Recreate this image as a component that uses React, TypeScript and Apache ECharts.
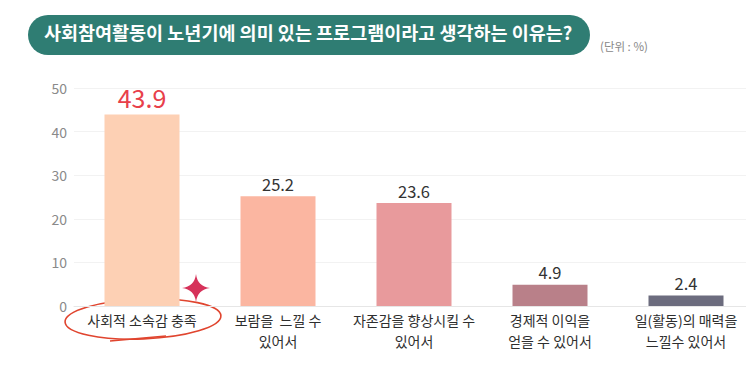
import React, { useEffect, useRef } from "react";
import * as echarts from "echarts";

const categories = [
  "사회적 소속감 충족",
  "보람을  느낄 수\n있어서",
  "자존감을 향상시킬 수\n있어서",
  "경제적 이익을\n얻을 수 있어서",
  "일(활동)의 매력을\n느낄수 있어서",
];
const values = [43.9, 25.2, 23.6, 4.9, 2.4];
const barColors = ["#FDD0B4", "#FBB6A1", "#E89A9C", "#B98089", "#6C6C7E"];
const yTicks = [0, 10, 20, 30, 40, 50];
const title = "사회참여활동이 노년기에 의미 있는 프로그램이라고 생각하는 이유는?";
const unit = "(단위 : %)";

const FONT = "'Noto Sans CJK KR', 'Noto Sans', sans-serif";

export default function App() {
  const ref = useRef<HTMLDivElement>(null);
  useEffect(() => {
    if (!ref.current) return;
    echarts.graphic.registerShape(
      "star4",
      echarts.graphic.extendPath(
        "M14 0 Q15.5 12.5 28 14 Q15.5 15.5 14 28 Q12.5 15.5 0 14 Q12.5 12.5 14 0 Z",
        {}
      )
    );
    const chart = echarts.init(ref.current, null, { renderer: "svg" });
    chart.setOption({
      animation: false,
      backgroundColor: "#ffffff",
      textStyle: { fontFamily: FONT },
      grid: { left: 74, width: 682, top: 88, bottom: 72, containLabel: false },
      xAxis: {
        type: "category",
        data: categories,
        axisLine: { show: true, lineStyle: { color: "#e6e6e6" } },
        axisTick: { show: false },
        axisLabel: {
          color: "#2e2e2e",
          fontSize: 14,
          fontFamily: FONT,
          lineHeight: 21,
          margin: 3,
          interval: 0,
        },
      },
      yAxis: {
        type: "value",
        min: yTicks[0],
        max: yTicks[yTicks.length - 1],
        interval: 10,
        axisLine: { show: false },
        axisTick: { show: false },
        splitLine: { lineStyle: { color: "#f2f2f2" } },
        axisLabel: { color: "#8a8a8a", fontSize: 14, margin: 7, fontFamily: FONT },
      },
      series: [
        {
          type: "bar",
          barWidth: 75,
          data: values.map((v, i) => ({
            value: v,
            itemStyle: { color: barColors[i] },
            label:
              i === 0
                ? { color: "#E8404A", fontSize: 25, distance: 5 }
                : { color: "#333", fontSize: 16.5, distance: 4 },
          })),
          label: { show: true, position: "top", fontFamily: FONT },
        },
      ],
      graphic: [
        {
          type: "rect",
          left: 28,
          top: 15,
          shape: { width: 562, height: 40, r: 20 },
          style: { fill: "#2F7D73" },
        },
        {
          type: "text",
          left: 44,
          top: 23,
          style: {
            text: title,
            fill: "#ffffff",
            fontSize: 18.5,
            fontWeight: "bold",
            fontFamily: FONT,
          },
        },
        {
          type: "text",
          left: 600,
          top: 40,
          style: { text: unit, fill: "#888", fontSize: 11.5, fontFamily: FONT },
        },
        {
          type: "ellipse",
          shape: { cx: 143, cy: 319, rx: 78, ry: 20 },
          rotation: 0.04,
          originX: 143,
          originY: 319,
          style: { fill: "none", stroke: "#E0452F", lineWidth: 1.6 },
        },
        {
          type: "line",
          shape: { x1: 110, y1: 341, x2: 166, y2: 336 },
          style: { stroke: "#E0452F", lineWidth: 1.4 },
        },
        {
          type: "star4",
          x: 182,
          y: 274,
          scaleX: 1,
          scaleY: 1,
          style: { fill: "#D6325A" },
        },
      ],
    });
    return () => chart.dispose();
  }, []);
  return <div ref={ref} style={{ width: 754, height: 378, margin: -8 }} />;
}
